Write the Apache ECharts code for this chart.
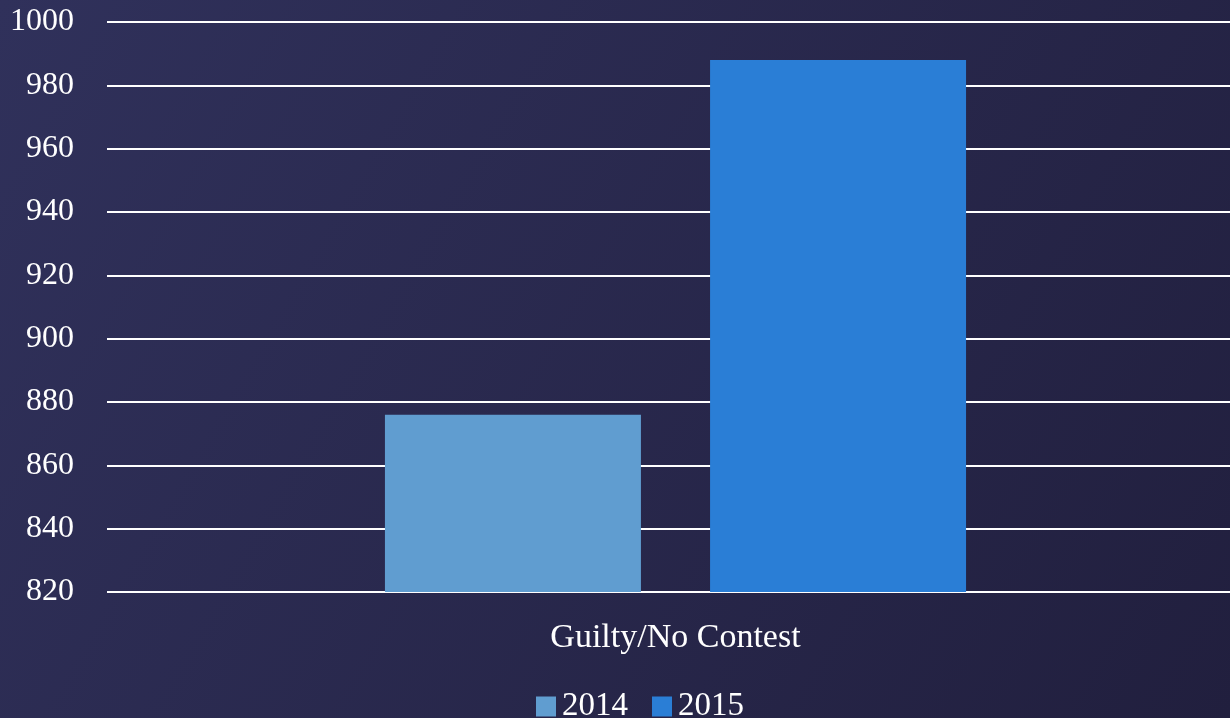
<!DOCTYPE html>
<html lang="en">
<head>
    <meta charset="UTF-8">
    <title>Guilty/No Contest</title>
    <script src="https://cdn.jsdelivr.net/npm/echarts@6/dist/echarts.min.js"></script>
    <style>
        html, body { margin: 0; padding: 0; }
        #main { width: 1230px; height: 718px; }
    </style>
</head>
<body>
<div id="main"></div>
<script>
    var categories = ['Guilty/No Contest'];
    var years = ['2014', '2015'];
    var values2014 = [876];
    var values2015 = [988];
    var yTicks = [820, 840, 860, 880, 900, 920, 940, 960, 980, 1000];

    var serif = '"Liberation Serif", "DejaVu Serif", serif';
    var myChart = echarts.init(document.getElementById('main'));
    var option = {
        backgroundColor: {
            type: 'linear', x: 0, y: 0, x2: 1, y2: 1,
            colorStops: [
                {offset: 0, color: '#30315b'},
                {offset: 1, color: '#211f3e'}
            ]
        },
        animation: false,
        textStyle: {fontFamily: serif, color: '#fff'},
        // grid runs a little past the right edge so the category centre sits where the original has it
        grid: {left: 107, width: 1137, top: 22, bottom: 126, outerBoundsMode: 'none'},
        legend: {
            top: 685,
            left: 531,
            itemWidth: 20,
            itemHeight: 20,
            itemGap: 24,
            icon: 'rect',
            textStyle: {color: '#fff', fontSize: 33, fontFamily: serif, padding: [0, 0, 0, 1]},
            data: years
        },
        xAxis: {
            type: 'category',
            data: categories,
            axisLine: {show: false},
            axisTick: {show: false},
            axisLabel: {color: '#fff', fontSize: 34, fontFamily: serif, margin: 29}
        },
        yAxis: {
            type: 'value',
            min: yTicks[0],
            max: yTicks[yTicks.length - 1],
            interval: 20,
            axisLine: {show: false},
            axisTick: {show: false},
            axisLabel: {
                color: '#fff', fontSize: 32, fontFamily: serif, margin: 33,
                formatter: function (v) { return String(v); }
            },
            splitLine: {lineStyle: {color: '#ffffff', width: 2}}
        },
        series: [
            {
                name: years[0],
                type: 'bar',
                data: values2014,
                barWidth: 256,
                barGap: '27%',
                itemStyle: {color: '#609dd0'}
            },
            {
                name: years[1],
                type: 'bar',
                data: values2015,
                barWidth: 256,
                itemStyle: {color: '#2a7ed6'}
            }
        ]
    };
    myChart.setOption(option);
</script>
</body>
</html>
